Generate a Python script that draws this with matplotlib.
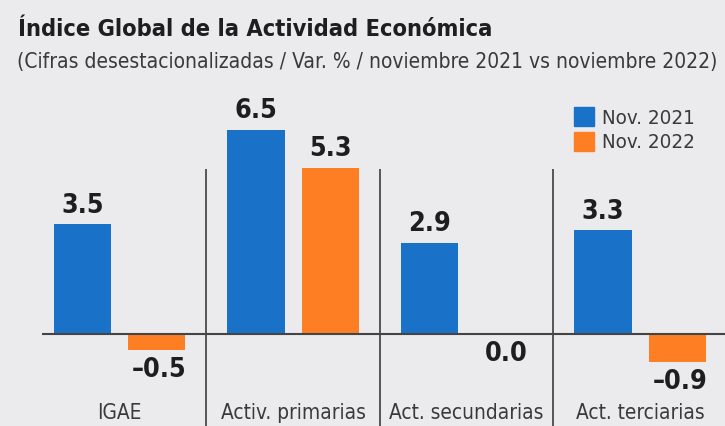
import matplotlib.pyplot as plt
from matplotlib.patches import Patch
import numpy as np

categories = ["IGAE", "Activ. primarias", "Act. secundarias", "Act. terciarias"]
nov_2021 = [3.5, 6.5, 2.9, 3.3]
nov_2022 = [-0.5, 5.3, 0.0, -0.9]
series_names = ["Nov. 2021", "Nov. 2022"]

BG = "#ebebee"
BLUE = "#1a72c8"
ORANGE = "#fe7f23"
DARK = "#1e1e1e"
GREY = "#3a3a3a"
FONT = dict(family="DejaVu Sans", stretch="condensed")

fig = plt.figure(figsize=(7.25, 4.26), dpi=100, facecolor=BG)
ax = fig.add_axes([41.6 / 725, 0.0, 1 - 41.6 / 725, 1 - 100 / 426])
ax.set_facecolor(BG)
renderer = fig.canvas.get_renderer()


def fit(text, target_px):
    # shrink/grow the font so the text spans the same width as the reference
    w = text.get_window_extent(renderer).width
    text.set_fontsize(text.get_fontsize() * target_px / w)
    return text.get_fontsize()


x = np.arange(len(categories))
width = 0.33
off = 0.214
ax.bar(x - off, nov_2021, width, color=BLUE, zorder=2)
ax.bar(x + off, nov_2022, width, color=ORANGE, zorder=2)

ax.set_xlim(-0.45, 3.49)
ax.set_ylim(-2.93, 7.45)
ax.axhline(0, color="#444444", lw=1.5, zorder=3)
ax.vlines([0.5, 1.5, 2.5], -2.93, 5.25, color="#555555", lw=1.4, zorder=1)

# value labels
probe = ax.text(0, 0, "0.0", fontsize=18, fontweight="bold", **FONT)
val_size = fit(probe, 43)
probe.remove()
for xs, vals in ((x - off, nov_2021), (x + off, nov_2022)):
    for xi, v in zip(xs, vals):
        if v > 0:
            ax.annotate(f"{v:.1f}", (xi, v), xytext=(0, 4), textcoords="offset points",
                        ha="center", va="bottom", fontsize=val_size, fontweight="bold",
                        color=DARK, **FONT)
        else:
            txt = f"{v:.1f}".replace("-", "\u2013")
            ax.annotate(txt, (xi, v), xytext=(2, -5), textcoords="offset points",
                        ha="center", va="top", fontsize=val_size, fontweight="bold",
                        color=DARK, **FONT)

# category labels
probe = ax.text(0, 0, "Act. secundarias", fontsize=15, **FONT)
cat_size = fit(probe, 155)
probe.remove()
for xi, c in zip(x, categories):
    ax.text(xi, -2.52, c, ha="center", va="center", fontsize=cat_size, color=GREY, **FONT)

ax.axis("off")

# legend
probe = fig.text(0, 0, "Nov. 2021", fontsize=16, **FONT)
leg_size = fit(probe, 93)
probe.remove()
handles = [Patch(color=BLUE), Patch(color=ORANGE)]
leg = fig.legend(handles, series_names, loc="upper left",
                 bbox_to_anchor=(556 / 725, 1 - 89 / 426), frameon=False,
                 handlelength=0.95, handleheight=1.05, handletextpad=0.4,
                 labelspacing=0.2, prop=dict(size=leg_size, **FONT))
for t in leg.get_texts():
    t.set_color(GREY)

title = fig.text(18 / 725, 1 - 29 / 426, "Índice Global de la Actividad Económica",
                 ha="left", va="center", fontsize=22, fontweight="bold", color=DARK, **FONT)
fit(title, 472)
sub = fig.text(17 / 725, 1 - 62 / 426,
               "(Cifras desestacionalizadas / Var. % / noviembre 2021 vs noviembre 2022)",
               ha="left", va="center", fontsize=16, color=GREY, **FONT)
fit(sub, 704)

fig.savefig("out.png", dpi=100, facecolor=BG)
